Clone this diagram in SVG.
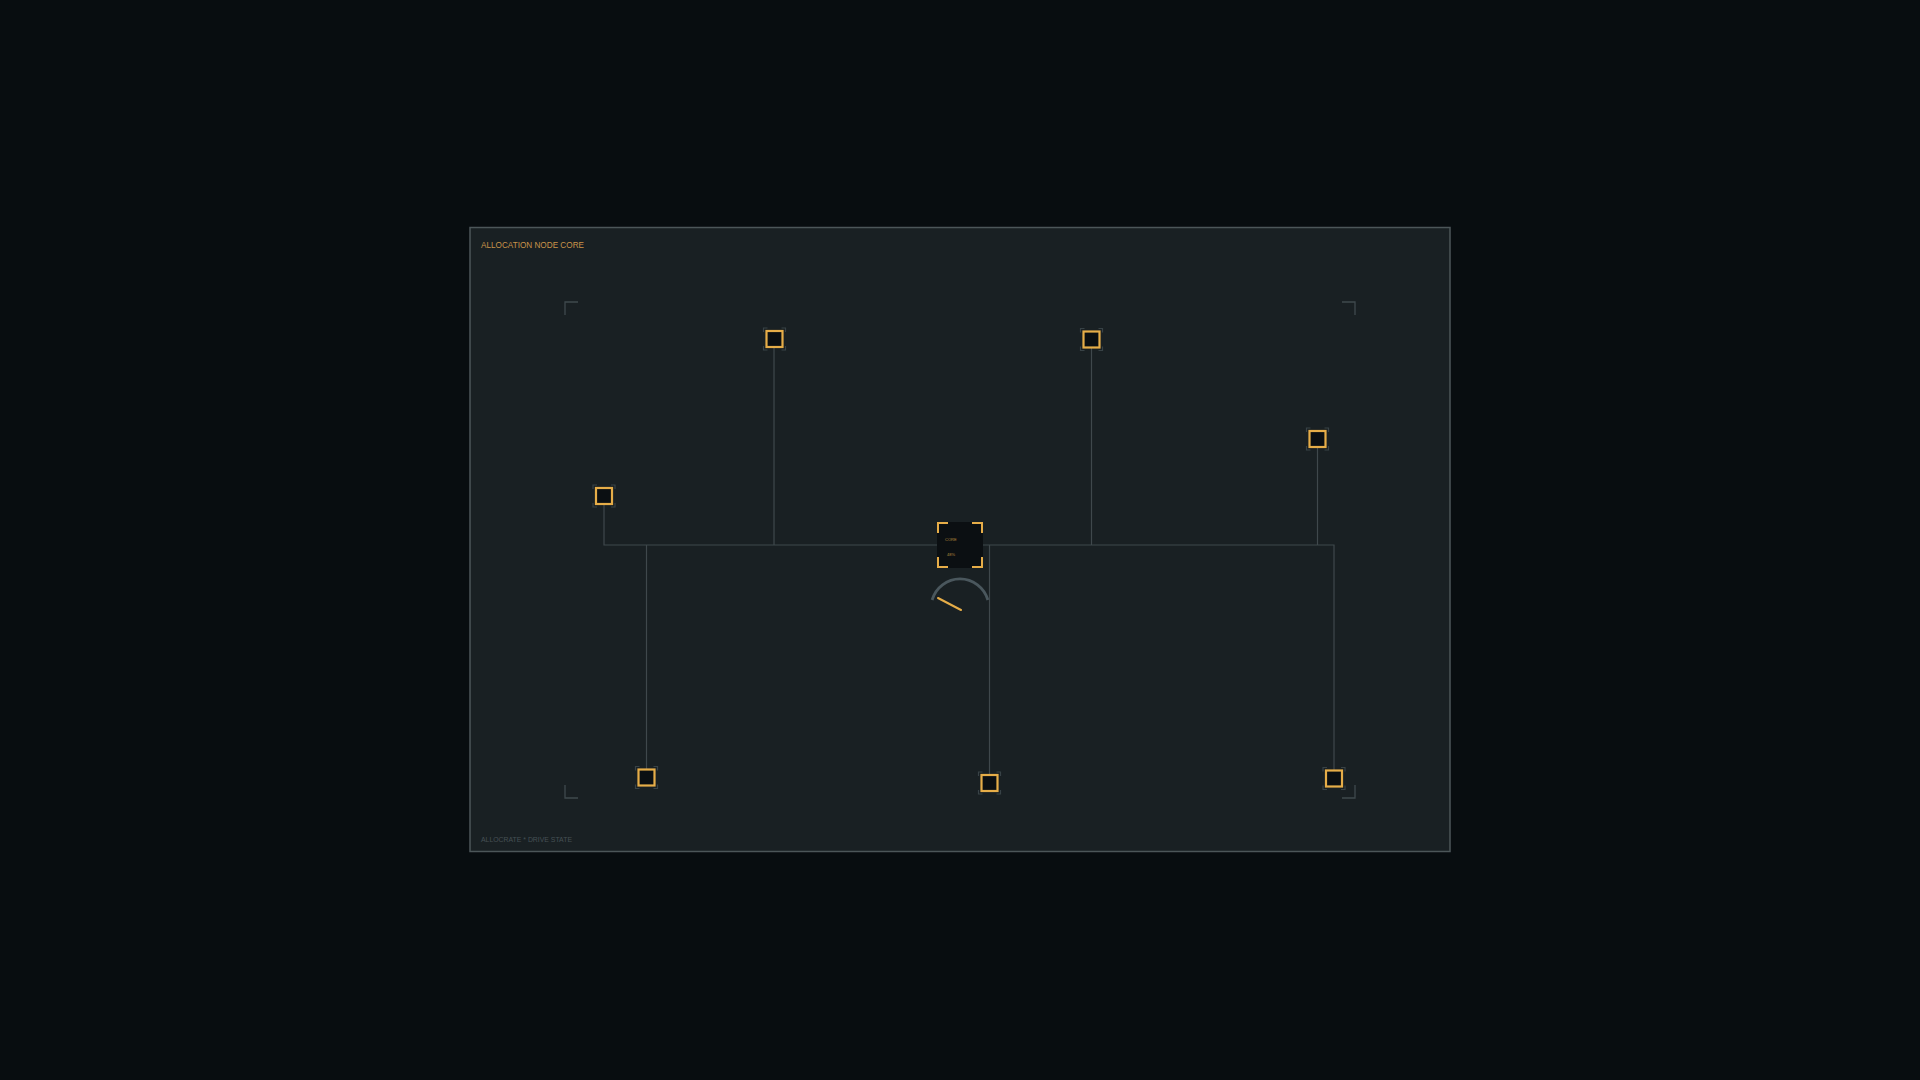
<svg xmlns="http://www.w3.org/2000/svg" width="1920" height="1080" viewBox="0 0 1920 1080">
<defs>
<style>
.bg{fill:#080d10}
.panel{fill:#192023;stroke:#4c5659;stroke-width:1.5}
.wire{fill:none;stroke:#3f484c;stroke-width:1.2}
.corner{fill:none;stroke:#3f494d;stroke-width:1.3}
.nbox{fill:#0b0f12;stroke:#e6ad48;stroke-width:2.2}
.ntick{fill:none;stroke:#384246;stroke-width:1.2}
.cbr{fill:none;stroke:#e6ad48;stroke-width:2}
.title{font-family:"Liberation Sans",Arial,sans-serif;font-size:8.6px;fill:#c9944a}
.foot{font-family:"Liberation Sans",Arial,sans-serif;font-size:7.6px;fill:#465055}
.tiny{font-family:"Liberation Sans",Arial,sans-serif;font-size:4px;fill:#b98a3e}
</style>
<g id="nodeShape">
<path class="ntick" d="M-11,-7 V-11 H-7 M7,-11 H11 V-7 M11,7 V11 H7 M-7,11 H-11 V7"/>
<rect class="nbox" x="-8" y="-8" width="16" height="16"/>
</g>
</defs>
<rect class="bg" x="0" y="0" width="1920" height="1080"/>
<rect class="panel" x="470" y="227.5" width="980" height="624"/>
<text class="title" x="481" y="248" textLength="103" lengthAdjust="spacingAndGlyphs">ALLOCATION NODE CORE</text>
<text class="foot" x="481" y="842" textLength="91" lengthAdjust="spacingAndGlyphs">ALLOCRATE * DRIVE STATE</text>
<g id="frame-corners">
<path class="corner" d="M565,315 V302 H578"/>
<path class="corner" d="M1342,302 H1355 V315"/>
<path class="corner" d="M565,785 V798 H578"/>
<path class="corner" d="M1355,785 V798 H1342"/>
</g>
<g id="connectors">
<path class="wire" d="M604,504 V545 H1334 V770"/>
<path class="wire" d="M774,347 V545"/>
<path class="wire" d="M1091.5,348 V545"/>
<path class="wire" d="M1317.5,447 V545"/>
<path class="wire" d="M646.5,545 V769"/>
<path class="wire" d="M989.5,545 V775"/>
</g>
<g id="node-tl"><use href="#nodeShape" x="774.5" y="339"/></g>
<g id="node-tr"><use href="#nodeShape" x="1091.5" y="339.5"/></g>
<g id="node-r"><use href="#nodeShape" x="1317.5" y="439"/></g>
<g id="node-l"><use href="#nodeShape" x="604" y="496"/></g>
<g id="node-bl"><use href="#nodeShape" x="646.5" y="777.5"/></g>
<g id="node-bc"><use href="#nodeShape" x="989.5" y="783"/></g>
<g id="node-br"><use href="#nodeShape" x="1334" y="778.5"/></g>
<g id="node-core">
<rect x="937" y="522" width="46" height="46" fill="#0b0f12"/>
<path class="cbr" d="M938,533 V523 H948 M972,523 H982 V533 M982,557 V567 H972 M948,567 H938 V557"/>
<text class="tiny" x="945" y="541">CORE</text>
<text class="tiny" x="947" y="555.5">48%</text>
</g>
<g id="gauge">
<path d="M932.1,600 A29,29 0 0 1 987.9,600" fill="none" stroke="#4a575d" stroke-width="2.8"/>
<line x1="938" y1="598" x2="961" y2="610" stroke="#e6ad48" stroke-width="2" stroke-linecap="round"/>
</g>
</svg>
